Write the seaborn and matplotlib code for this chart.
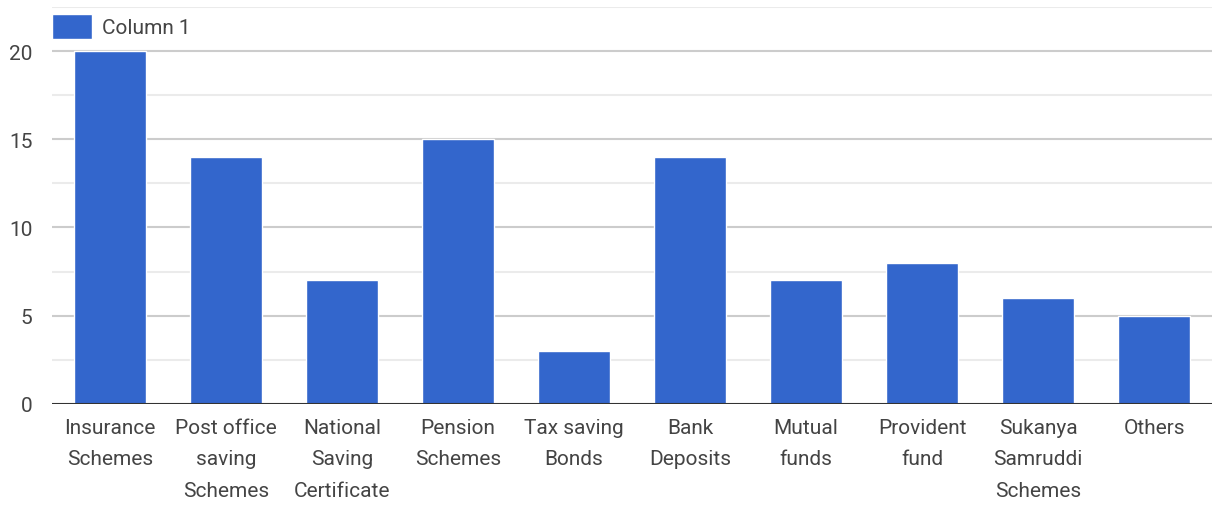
import matplotlib
matplotlib.use("Agg")
import matplotlib.pyplot as plt
import seaborn as sns
import pandas as pd
import numpy as np

categories = ["Insurance\nSchemes", "Post office\nsaving\nSchemes", "National\nSaving\nCertificate",
              "Pension\nSchemes", "Tax saving\nBonds", "Bank\nDeposits", "Mutual\nfunds",
              "Provident\nfund", "Sukanya\nSamruddi\nSchemes", "Others"]
values = [20, 14, 7, 15, 3, 14, 7, 8, 6, 5]
y_ticks = [0, 5, 10, 15, 20]

sns.set_style("white")
plt.rcParams["font.family"] = ["Roboto", "DejaVu Sans"]

df = pd.DataFrame({"category": categories, "value": values})

fig = plt.figure(figsize=(12.12, 5.06), dpi=100)
ax = fig.add_axes([0.043, 0.2, 0.957, 0.784])

for y in np.arange(2.5, 23, 2.5):
    ax.axhline(y, color="#cccccc" if y % 5 == 0 else "#ebebeb", lw=1.5, zorder=0)

sns.barplot(data=df, x="category", y="value", color="#3366cc", width=0.615,
            saturation=1, ax=ax, label="Column 1", zorder=2)
ax.axhline(0, color="#333333", lw=1.5, zorder=3)

ax.set_ylim(0, 22.5)
ax.set_xlim(-0.5, 9.5)
ax.set_yticks(y_ticks)
ax.set_yticklabels([str(t) for t in y_ticks])
ax.set_xlabel("")
ax.set_ylabel("")
ax.tick_params(axis="both", length=0, labelsize=15, labelcolor="#444444")
ax.tick_params(axis="x", pad=10)
ax.tick_params(axis="y", pad=14)
for s in ax.spines.values():
    s.set_visible(False)

leg = ax.legend(loc="upper left", bbox_to_anchor=(0.0, 0.983), frameon=False,
                fontsize=15, handlelength=1.92, handleheight=1.45, borderaxespad=0,
                borderpad=0, handletextpad=0.48)
for t in leg.get_texts():
    t.set_color("#444444")

# line spacing of the wrapped labels, set once ticks exist
fig.canvas.draw()
for lab in ax.get_xticklabels():
    lab.set_linespacing(1.85)

fig.savefig("out.png", dpi=100, facecolor="white")
